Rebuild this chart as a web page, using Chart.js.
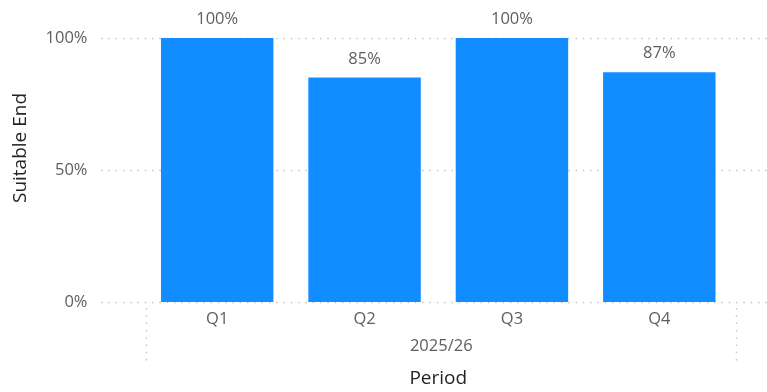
<!DOCTYPE html>
<html>
<head>
<meta charset="utf-8">
<script src="https://cdn.jsdelivr.net/npm/chart.js@4"></script>
<style>
  html, body { margin: 0; padding: 0; background: #fff; }
  #wrap { width: 767px; height: 392px; }
</style>
</head>
<body>
<div id="wrap"><canvas id="chartSuitable"></canvas></div>
<script>
const trimestres = ['Q1', 'Q2', 'Q3', 'Q4'];
const percentuais = [100, 85, 100, 87];
const anoFiscal = '2025/26';
const ticksY = [0, 50, 100];
const tituloY = 'Suitable End';

const FONTE = "'Open Sans', 'Noto Sans', sans-serif";
const CINZA = '#605e5c';
const ESCURO = '#252423';

// linhas pontilhadas do eixo Y, mais largas que a área do gráfico
const gradePontilhada = {
  id: 'gradePontilhada',
  beforeDatasetsDraw(chart) {
    const {ctx, scales: {y}} = chart;
    ctx.save();
    ctx.strokeStyle = '#c8c6c4';
    ctx.lineWidth = 1.5;
    ctx.setLineDash([1.5, 5.8]);
    ticksY.forEach(v => {
      const py = Math.round(y.getPixelForValue(v)) + 0.5;
      ctx.beginPath();
      ctx.moveTo(101, py);
      ctx.lineTo(chart.width, py);
      ctx.stroke();
    });
    ctx.restore();
  }
};

// rótulo do grupo (ano), separadores verticais e título do eixo Y
const grupoEixoX = {
  id: 'grupoEixoX',
  afterDraw(chart) {
    const {ctx, chartArea: a} = chart;
    ctx.save();
    ctx.strokeStyle = '#c8c6c4';
    ctx.lineWidth = 1.5;
    ctx.setLineDash([1.5, 5.8]);
    [a.left + 2.5, a.right + 2.5].forEach(px => {
      ctx.beginPath();
      ctx.moveTo(Math.round(px) + 0.5, a.bottom + 6);
      ctx.lineTo(Math.round(px) + 0.5, a.bottom + 60);
      ctx.stroke();
    });
    ctx.setLineDash([]);
    ctx.fillStyle = CINZA;
    ctx.font = `16.5px ${FONTE}`;
    ctx.textAlign = 'center';
    ctx.textBaseline = 'middle';
    ctx.fillText(anoFiscal, (a.left + a.right) / 2 + 3, a.bottom + 44);

    // título do eixo Y centralizado na altura acima do zero
    ctx.translate(21, a.bottom / 2 - 3);
    ctx.rotate(-Math.PI / 2);
    ctx.fillStyle = ESCURO;
    ctx.font = `19px ${FONTE}`;
    ctx.fillText(tituloY, 0, 0);
    ctx.restore();
  }
};

// valores acima das barras
const rotulosBarras = {
  id: 'rotulosBarras',
  afterDatasetsDraw(chart) {
    const {ctx} = chart;
    const meta = chart.getDatasetMeta(0);
    ctx.save();
    ctx.fillStyle = CINZA;
    ctx.font = `16.5px ${FONTE}`;
    ctx.textAlign = 'center';
    ctx.textBaseline = 'alphabetic';
    meta.data.forEach((bar, i) => {
      ctx.fillText(percentuais[i] + '%', bar.x, bar.y - 14);
    });
    ctx.restore();
  }
};

new Chart(document.getElementById('chartSuitable'), {
  type: 'bar',
  data: {
    labels: trimestres,
    datasets: [{
      data: percentuais,
      backgroundColor: '#118dff',
      barPercentage: 0.763,
      categoryPercentage: 1
    }]
  },
  options: {
    responsive: true,
    maintainAspectRatio: false,
    animation: false,
    layout: {padding: {top: 38, right: 34, left: 0, bottom: 0}},
    plugins: {legend: {display: false}, tooltip: {enabled: false}},
    scales: {
      x: {
        grid: {display: false, drawTicks: false},
        border: {display: false},
        ticks: {color: CINZA, font: {family: FONTE, size: 16.5}, padding: 7},
        title: {
          display: true,
          text: 'Period',
          color: ESCURO,
          font: {family: FONTE, size: 19},
          padding: {top: 0, bottom: 2}
        },
        afterFit: s => { s.height = 90; }
      },
      y: {
        min: 0,
        max: 100,
        afterBuildTicks: s => { s.ticks = ticksY.map(v => ({value: v})); },
        grid: {display: false, drawTicks: true, tickLength: 50},
        border: {display: false},
        ticks: {
          color: CINZA,
          font: {family: FONTE, size: 16.5},
          padding: 6,
          callback: v => v + '%'
        },
        title: {display: false},
        afterFit: s => { s.width = 143.5; }
      }
    }
  },
  plugins: [gradePontilhada, grupoEixoX, rotulosBarras]
});
</script>
</body>
</html>
